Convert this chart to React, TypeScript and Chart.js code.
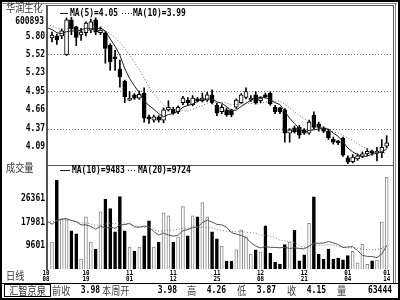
import React, { useEffect, useRef } from "react";
import { Chart, registerables } from "chart.js";

Chart.register(...registerables);

// ---------- data ----------
const stockName = "华润生化";
const stockCode = "600893";

const opens = [
  5.77, 5.8, 5.8, 5.51, 6.05, 5.94, 5.815, 5.85, 5.89, 6.05,
  5.85, 5.85, 5.66, 5.48, 5.29, 5.1, 4.81, 4.89, 4.84, 4.92,
  4.55, 4.5, 4.55, 4.5, 4.66, 4.67, 4.63, 4.77, 4.81, 4.74,
  4.83, 4.8, 4.81, 4.89, 4.73, 4.63, 4.66, 4.66, 4.7, 4.77,
  4.85, 4.81, 4.89, 4.8, 4.89, 4.92, 4.7, 4.69, 4.66, 4.3,
  4.38, 4.39, 4.35, 4.3, 4.58, 4.44, 4.38, 4.33, 4.21, 4.17,
  4.22, 3.92, 3.86, 3.9, 3.94, 3.98, 4.01, 3.99, 4.0, 4.1,
];
const highs = [
  5.86, 5.83, 5.91, 6.08, 6.09, 5.95, 5.92, 6.02, 6.06, 6.08,
  5.94, 5.87, 5.68, 5.58, 5.43, 5.12, 4.94, 4.91, 4.95, 5.0,
  4.58, 4.58, 4.57, 4.69, 4.8, 4.7, 4.72, 4.87, 4.85, 4.88,
  4.85, 4.92, 4.93, 4.97, 4.76, 4.74, 4.69, 4.67, 4.83, 4.91,
  5.0, 4.88, 4.94, 4.86, 4.92, 4.94, 4.73, 4.7, 4.68, 4.37,
  4.41, 4.42, 4.37, 4.5, 4.63, 4.47, 4.4, 4.36, 4.24, 4.19,
  4.24, 3.95, 3.97, 3.98, 4.01, 4.06, 4.04, 4.08, 4.2, 4.26,
];
const lows = [
  5.71, 5.67, 5.76, 5.5, 5.82, 5.65, 5.73, 5.8, 5.85, 5.82,
  5.82, 5.38, 5.27, 5.27, 5.01, 4.77, 4.8, 4.82, 4.82, 4.47,
  4.45, 4.47, 4.47, 4.46, 4.64, 4.59, 4.6, 4.74, 4.73, 4.72,
  4.78, 4.78, 4.79, 4.75, 4.57, 4.6, 4.56, 4.55, 4.68, 4.76,
  4.83, 4.79, 4.75, 4.77, 4.84, 4.73, 4.6, 4.6, 4.16, 4.16,
  4.3, 4.22, 4.28, 4.28, 4.36, 4.33, 4.31, 4.2, 4.13, 4.12,
  3.94, 3.83, 3.84, 3.88, 3.92, 3.95, 3.96, 3.87, 3.92, 4.07,
];
const closes = [
  5.815, 5.74, 5.88, 6.05, 5.91, 5.78, 5.86, 6.0, 6.02, 5.86,
  5.89, 5.61, 5.4, 5.445, 5.17, 4.86, 4.84, 4.84, 4.9, 4.53,
  4.52, 4.55, 4.5, 4.66, 4.7, 4.61, 4.7, 4.84, 4.77, 4.84,
  4.8, 4.84, 4.89, 4.77, 4.61, 4.7, 4.58, 4.58, 4.81, 4.89,
  4.94, 4.84, 4.77, 4.84, 4.86, 4.75, 4.63, 4.63, 4.3, 4.35,
  4.32, 4.27, 4.3, 4.47, 4.39, 4.39, 4.33, 4.23, 4.16, 4.15,
  3.96, 3.85, 3.93, 3.95, 3.98, 4.02, 3.99, 4.01, 4.08, 4.15,
];
const volumes = [
  10860, 32800, 19130, 18880, 14820, 13740, 4750, 19850, 10860, 8340,
  21650, 26080, 22730, 14460, 27050, 14820, 9060, 7620, 9060, 13020,
  18410, 9060, 10860, 21290, 20210, 10860, 12660, 23450, 13020, 20210,
  19850, 24890, 19850, 14460, 11940, 9420, 4030, 4030, 8090, 15180,
  12660, 6540, 8090, 7370, 16620, 6900, 3670, 2950, 9890, 10860,
  15000, 4140, 6290, 17500, 27000, 6540, 4750, 8340, 4750, 5110,
  4500, 6000, 7500, 3386, 10000, 2900, 4100, 4444, 18000, 34000,
];
// closes / volumes of the sessions just before the first visible bar (estimated, seed the averages)
const priorCloses = [6.08, 6.05, 6.02, 5.98, 6.0, 5.96, 5.98, 5.95, 5.9, 5.85];
const priorVolumes = [
  16000, 21000, 14500, 19000, 23000, 17500, 15000, 20500, 18000, 16500,
  22000, 19500, 14000, 17000, 21500, 18500, 16000, 20000, 15500, 19000,
];

const priceTicks = [5.8, 5.52, 5.23, 4.95, 4.66, 4.37, 4.09];
const priceGrid = [5.52, 4.95, 4.37];
const volumeTicks = [26361, 17981, 9601];
const dateMonths = ["10", "10", "11", "11", "11", "12", "12", "01", "01"];
const dateDays = ["08", "19", "01", "12", "25", "08", "21", "04", "14"];
const dateBars = [0, 7, 16, 25, 34, 43, 52, 61, 69];

const priceLegend = ["MA(5)=4.05", "MA(10)=3.99"];
const volumeLegend = ["MA(10)=9483", "MA(20)=9724"];
const infoBroker = "汇智京泉";
const infoNames = ["前收", "本周开", "高", "低", "收", "量"];
const infoValues = ["3.98", "3.98", "4.26", "3.87", "4.15", "63444"];

// ---------- layout / style ----------
const W = 400;
const H = 300;
const PLOT_L = 48;
const PLOT_R = 393;
const PLOT_T = 5;
const PLOT_B = 269;
const SPLIT_Y = 165;
const PRICE_MIN = 2.2016;
const PRICE_MAX = 6.2788;
const VOL_MIN = 1221;
const VOL_MAX = 95363;
const X_MIN = -0.825;
const X_MAX = 70.31;
const SX = 0.833;
const MONO = 'bold 9.6px "DejaVu Sans Mono"';
const MONO_S = 'bold 7px "DejaVu Sans Mono"';
const CJK = '11px "Noto Sans CJK SC"';

function movingAverage(prior: number[], values: number[], n: number) {
  const all = [...prior, ...values];
  const out: { x: number; y: number }[] = [];
  for (let i = prior.length - 1; i < all.length; i++) {
    let s = 0;
    for (let k = 0; k < n; k++) s += all[i - k];
    out.push({ x: i - prior.length, y: s / n });
  }
  return out;
}

function text(ctx: CanvasRenderingContext2D, s: string, x: number, y: number, align: CanvasTextAlign) {
  ctx.save();
  ctx.translate(x, y);
  ctx.scale(SX, 1);
  ctx.textAlign = align;
  ctx.textBaseline = "middle";
  ctx.fillText(s, 0, 0);
  ctx.restore();
}

const overlay = {
  id: "overlay",
  beforeDraw(chart: any) {
    const ctx = chart.ctx;
    ctx.save();
    ctx.fillStyle = "#fff";
    ctx.fillRect(0, 0, W, H);
    ctx.restore();
  },
  beforeDatasetsDraw(chart: any) {
    const ctx = chart.ctx;
    const ys = chart.scales.y;
    ctx.save();
    ctx.strokeStyle = "#777";
    ctx.lineWidth = 1;
    ctx.setLineDash([1, 2]);
    for (const v of priceGrid) {
      const y = Math.round(ys.getPixelForValue(v)) + 0.5;
      ctx.beginPath();
      ctx.moveTo(PLOT_L, y);
      ctx.lineTo(PLOT_R, y);
      ctx.stroke();
    }
    ctx.restore();
  },
  afterDraw(chart: any) {
    const ctx = chart.ctx;
    const ys = chart.scales.y;
    const yv = chart.scales.yv;
    const xs = chart.scales.x;
    ctx.save();
    const seg = (x1: number, y1: number, x2: number, y2: number) => {
      ctx.beginPath();
      ctx.moveTo(x1, y1);
      ctx.lineTo(x2, y2);
      ctx.stroke();
    };
    // frames
    ctx.setLineDash([]);
    ctx.strokeStyle = "#000";
    ctx.lineWidth = 2;
    ctx.strokeRect(1, 1, W - 2, H - 2);
    ctx.lineWidth = 1;
    ctx.strokeStyle = "#888";
    seg(2, 3.5, 397, 3.5);
    seg(395.5, 3, 395.5, 283);
    ctx.strokeStyle = "#555";
    seg(PLOT_L, PLOT_T + 0.5, PLOT_R + 1, PLOT_T + 0.5);
    seg(PLOT_R + 0.5, PLOT_T, PLOT_R + 0.5, 283);
    ctx.lineWidth = 2;
    seg(PLOT_L - 1, PLOT_T, PLOT_L - 1, PLOT_B + 1);
    ctx.lineWidth = 1;
    seg(PLOT_L, SPLIT_Y + 0.5, PLOT_R, SPLIT_Y + 0.5);
    ctx.strokeStyle = "#000";
    seg(2, 283.5, 398, 283.5);
    ctx.strokeRect(4.5, 284.5, 46, 12);

    // axis labels
    ctx.fillStyle = "#000";
    ctx.font = MONO;
    for (const t of priceTicks) text(ctx, t.toFixed(2), 45, ys.getPixelForValue(t), "right");
    for (const t of volumeTicks) text(ctx, String(t), 45, yv.getPixelForValue(t), "right");
    text(ctx, stockCode, 44, 21, "right");

    // date labels
    ctx.font = MONO_S;
    dateBars.forEach((b, k) => {
      let x = xs.getPixelForValue(b);
      if (k === 0) x = PLOT_L - 2;
      text(ctx, dateMonths[k], x, 273.5, "center");
      text(ctx, dateDays[k], x, 279.5, "center");
    });

    // legends
    ctx.font = MONO;
    ctx.strokeStyle = "#222";
    seg(60, 13.5, 68, 13.5);
    text(ctx, priceLegend[0], 70, 13, "left");
    ctx.setLineDash([1, 2]);
    seg(122, 13.5, 132, 13.5);
    ctx.setLineDash([]);
    text(ctx, priceLegend[1], 133, 13, "left");
    seg(60, 170.5, 70, 170.5);
    text(ctx, volumeLegend[0], 72, 170, "left");
    ctx.setLineDash([1, 2]);
    seg(128, 170.5, 137, 170.5);
    ctx.setLineDash([]);
    text(ctx, volumeLegend[1], 138, 170, "left");

    // chinese labels
    ctx.fillStyle = "#333";
    ctx.font = CJK;
    text(ctx, stockName, 6, 8, "left");
    text(ctx, "成交量", 6, 168, "left");
    text(ctx, "日线", 6, 276, "left");

    // info bar
    text(ctx, infoBroker, 27.5, 290.5, "center");
    const nameX = [52, 102, 187, 237, 287, 337];
    const valR = [100, 177, 226, 276, 326, 392];
    infoNames.forEach((n, k) => {
      ctx.font = CJK;
      ctx.fillStyle = "#444";
      text(ctx, n, nameX[k], 290.5, "left");
      ctx.font = MONO;
      ctx.fillStyle = "#000";
      text(ctx, infoValues[k], valR[k], 290.5, "right");
    });
    ctx.restore();
  },
};

export default function App() {
  const ref = useRef<HTMLCanvasElement | null>(null);
  useEffect(() => {
    document.body.style.margin = "0";
    const canvas = ref.current;
    if (!canvas) return;
    const up = closes.map((c, i) => c >= opens[i]);
    const wicks = lows.map((l, i) => ({ x: i, y: [l, highs[i]] }));
    const bodies = opens.map((o, i) => ({ x: i, y: [Math.min(o, closes[i]), Math.max(o, closes[i])] }));
    const vols = volumes.map((v, i) => ({ x: i, y: v }));
    const chart = new Chart(canvas, {
      type: "bar",
      data: {
        datasets: [
          { type: "line", data: movingAverage(priorCloses, closes, 5), yAxisID: "y", borderColor: "#222", borderWidth: 1, pointRadius: 0, order: 0 },
          { type: "line", data: movingAverage(priorCloses, closes, 10), yAxisID: "y", borderColor: "#666", borderWidth: 1, borderDash: [1, 2], pointRadius: 0, order: 0 },
          { type: "bar", data: bodies, yAxisID: "y", backgroundColor: up.map((u) => (u ? "#fff" : "#000")), borderColor: "#000", borderWidth: 1, borderSkipped: false, barThickness: 4, minBarLength: 2, grouped: false, order: 1 },
          { type: "bar", data: wicks, yAxisID: "y", backgroundColor: "#000", borderWidth: 0, barThickness: 1, grouped: false, order: 2 },
          { type: "bar", data: vols, yAxisID: "yv", backgroundColor: up.map((u) => (u ? "#fff" : "#000")), borderColor: up.map((u) => (u ? "#888" : "#000")), borderWidth: 1, borderSkipped: "bottom", barThickness: 3, grouped: false, order: 1 },
          { type: "line", data: movingAverage(priorVolumes, volumes, 10), yAxisID: "yv", borderColor: "#555", borderWidth: 1, pointRadius: 0, order: 0 },
          { type: "line", data: movingAverage(priorVolumes, volumes, 20), yAxisID: "yv", borderColor: "#777", borderWidth: 1, borderDash: [1, 2], pointRadius: 0, order: 0 },
        ],
      } as any,
      options: {
        animation: false,
        responsive: false,
        events: [],
        layout: { padding: { left: PLOT_L, right: W - PLOT_R, top: PLOT_T, bottom: H - PLOT_B } },
        plugins: { legend: { display: false }, tooltip: { enabled: false } },
        scales: {
          x: { type: "linear", min: X_MIN, max: X_MAX, display: false, offset: false },
          y: { type: "linear", min: PRICE_MIN, max: PRICE_MAX, display: false },
          yv: { type: "linear", min: VOL_MIN, max: VOL_MAX, display: false },
        },
      } as any,
      plugins: [overlay],
    });
    return () => chart.destroy();
  }, []);
  return (
    <div style={{ width: W, height: H }}>
      <canvas ref={ref} width={W} height={H} style={{ display: "block" }} />
    </div>
  );
}
